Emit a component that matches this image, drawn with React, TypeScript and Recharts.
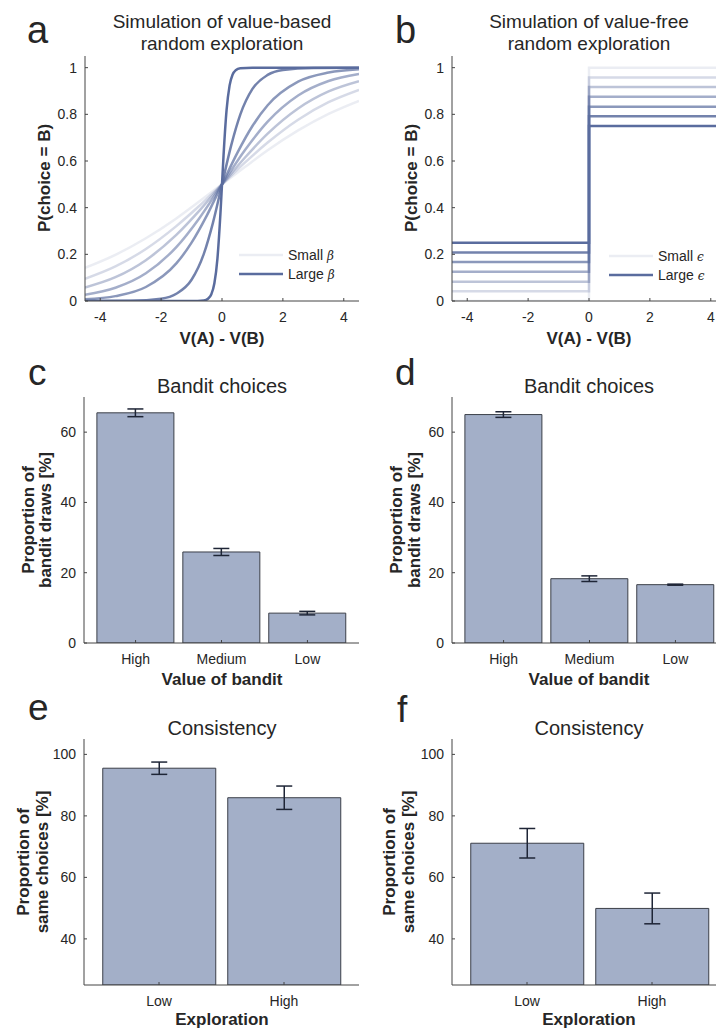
import React from 'react';
import { LineChart, Line, XAxis, YAxis, BarChart, Bar, ErrorBar } from 'recharts';

const FONT = '"Liberation Sans", Arial, Helvetica, sans-serif';
const LINE_BLUE = '#5a6c9e';
const BAR_FILL = '#a3afc8';
const BAR_EDGE = '#3b3f48';
const INK = '#262626';
const AXIS = '#454545';

// panel a: P(choice = B), shallow -> steep
const shallowX = [-4.5, -3.5, -2.5, -1.5, -0.75, 0, 0.75, 1.5, 2.5, 3.5, 4.5];
const midX = [-4.5, -3.5, -2.5, -1.5, -1, -0.5, 0, 0.5, 1, 1.5, 2.5, 3.5, 4.5];
const sharpX = [-4.5, -3, -2, -1.5, -1, -0.6, -0.3, 0, 0.3, 0.6, 1, 1.5, 2, 3, 4.5];
const steepX = [-4.5, -1, -0.6, -0.45, -0.35, -0.25, -0.15, -0.05, 0, 0.05, 0.15, 0.25, 0.35, 0.45, 0.6, 1, 4.5];

const pCurve1 = [0.142, 0.198, 0.269, 0.354, 0.426, 0.5, 0.574, 0.646, 0.731, 0.802, 0.858];
const pCurve2 = [0.095, 0.148, 0.223, 0.321, 0.407, 0.5, 0.593, 0.679, 0.777, 0.852, 0.905];
const pCurve3 = [0.058, 0.102, 0.175, 0.283, 0.386, 0.5, 0.614, 0.717, 0.825, 0.898, 0.942];
const pCurve4 = [0.027, 0.057, 0.119, 0.231, 0.354, 0.5, 0.646, 0.769, 0.881, 0.943, 0.973];
const pCurve5 = [0.007, 0.021, 0.06, 0.161, 0.25, 0.366, 0.5, 0.634, 0.75, 0.839, 0.94, 0.979, 0.993];
const pCurve6 = [0, 0.001, 0.01, 0.031, 0.091, 0.201, 0.334, 0.5, 0.666, 0.799, 0.909, 0.969, 0.99, 0.999, 1];
const pCurve7 = [0, 0, 0.0025, 0.011, 0.029, 0.076, 0.182, 0.378, 0.5, 0.622, 0.818, 0.924, 0.971, 0.989, 0.9975, 1, 1];

// panel b: epsilon-greedy step levels
const stepX = [-4.5, 0, 0, 4.5];
const epsLow = [0, 0.042, 0.083, 0.125, 0.167, 0.208, 0.25];
const epsHigh = [1, 0.958, 0.917, 0.875, 0.833, 0.792, 0.75];

const curveOpacity = [0.12, 0.25, 0.4, 0.55, 0.7, 0.85, 1];
const probTicks = [0, 0.2, 0.4, 0.6, 0.8, 1];
const diffTicks = [-4, -2, 0, 2, 4];

// panels c-f
const banditCats = ['High', 'Medium', 'Low'];
const banditValueBased = [65.5, 25.9, 8.5];
const banditValueBasedErr = [1.1, 1.0, 0.5];
const banditValueFree = [65.0, 18.3, 16.6];
const banditValueFreeErr = [0.8, 0.8, 0.15];
const banditTicks = [0, 20, 40, 60];

const consCats = ['Low', 'High'];
const consValueBased = [95.5, 85.9];
const consValueBasedErr = [2.0, 3.8];
const consValueFree = [71.1, 49.9];
const consValueFreeErr = [4.8, 5.0];
const consTicks = [40, 60, 80, 100];

const toRows = (xs: number[], ps: number[]) => xs.map((x, i) => ({ x, p: ps[i] }));

const betaCurves = [
  toRows(shallowX, pCurve1),
  toRows(shallowX, pCurve2),
  toRows(shallowX, pCurve3),
  toRows(shallowX, pCurve4),
  toRows(midX, pCurve5),
  toRows(sharpX, pCurve6),
  toRows(steepX, pCurve7),
];

const epsCurves = epsLow.map((lo, k) => stepX.map((x, i) => ({ x, p: i < 2 ? lo : epsHigh[k] })));

const barRows = (cats: string[], vals: number[], errs: number[]) =>
  cats.map((name, i) => ({ name, v: vals[i], err: errs[i] }));

const tickStyle = { fill: INK, fontSize: 14, fontFamily: FONT };
const axisLine = { stroke: AXIS, strokeWidth: 1 };

type Box = { left: number; top: number; w: number; h: number };

function frame(b: Box) {
  return {
    style: { position: 'absolute' as const, left: b.left - 50, top: b.top - 10 },
    width: b.w + 60,
    height: b.h + 50,
    margin: { top: 10, right: 10, left: 10, bottom: 10 },
  };
}

function CurvePanel({ box, curves, step }: { box: Box; curves: { x: number; p: number }[][]; step?: boolean }) {
  const f = frame(box);
  return (
    <div style={f.style}>
      <LineChart width={f.width} height={f.height} margin={f.margin}>
        <XAxis
          type="number"
          dataKey="x"
          domain={[-4.5, 4.5]}
          ticks={diffTicks}
          allowDataOverflow
          height={30}
          axisLine={axisLine}
          tickLine={{ stroke: AXIS }}
          tickSize={-3}
          tickMargin={14}
          tick={tickStyle}
        />
        <YAxis
          type="number"
          domain={[0, 1.05]}
          ticks={probTicks}
          allowDataOverflow
          width={40}
          axisLine={axisLine}
          tickLine={{ stroke: AXIS }}
          tickSize={-3}
          tickMargin={11}
          tick={tickStyle}
        />
        {curves.map((rows, k) => (
          <Line
            key={k}
            data={rows}
            dataKey="p"
            type={step ? 'linear' : 'monotone'}
            stroke={LINE_BLUE}
            strokeOpacity={curveOpacity[k]}
            strokeWidth={2.5}
            dot={false}
            activeDot={false}
            isAnimationActive={false}
          />
        ))}
      </LineChart>
    </div>
  );
}

function BarPanel({
  box, rows, domain, ticks, pad,
}: { box: Box; rows: { name: string; v: number; err: number }[]; domain: [number, number]; ticks: number[]; pad: number }) {
  const f = frame(box);
  return (
    <div style={f.style}>
      <BarChart width={f.width} height={f.height} margin={f.margin} data={rows} barCategoryGap="5%">
        <XAxis
          dataKey="name"
          padding={{ left: pad, right: pad }}
          height={30}
          axisLine={axisLine}
          tickLine={{ stroke: AXIS }}
          tickSize={-3}
          tickMargin={14}
          tick={tickStyle}
        />
        <YAxis
          type="number"
          domain={domain}
          ticks={ticks}
          allowDataOverflow
          width={40}
          axisLine={axisLine}
          tickLine={{ stroke: AXIS }}
          tickSize={-3}
          tickMargin={11}
          tick={tickStyle}
        />
        <Bar dataKey="v" fill={BAR_FILL} stroke={BAR_EDGE} strokeWidth={1} isAnimationActive={false}>
          <ErrorBar dataKey="err" width={8} stroke="#1e2536" strokeWidth={1.5} />
        </Bar>
      </BarChart>
    </div>
  );
}

const boxA = { left: 85, top: 56, w: 274, h: 245 };
const boxB = { left: 452, top: 56, w: 274, h: 245 };
const boxC = { left: 84, top: 397, w: 275, h: 246 };
const boxD = { left: 452, top: 397, w: 275, h: 246 };
const boxE = { left: 84, top: 739, w: 275, h: 246 };
const boxF = { left: 452, top: 739, w: 275, h: 246 };

function T({ x, y, size, bold, anchor, children, rotate }: any) {
  return (
    <text
      x={x}
      y={y}
      fontSize={size}
      fontWeight={bold ? 700 : 400}
      textAnchor={anchor || 'middle'}
      fill={INK}
      fontFamily={FONT}
      dominantBaseline={rotate ? 'central' : undefined}
      transform={rotate ? `rotate(-90, ${x}, ${y})` : undefined}
    >
      {children}
    </text>
  );
}

function LegendKey({ x, y, sym }: { x: number; y: number; sym: string }) {
  return (
    <g>
      <line x1={x} x2={x + 44} y1={y} y2={y} stroke={LINE_BLUE} strokeOpacity={curveOpacity[0]} strokeWidth={2.5} />
      <line x1={x} x2={x + 44} y1={y + 19} y2={y + 19} stroke={LINE_BLUE} strokeWidth={2.5} />
      <text x={x + 49} y={y + 5} fontSize={14} fill={INK} fontFamily={FONT}>
        Small <tspan fontStyle="italic" fontFamily='"DejaVu Serif", serif' fontSize={12}>{sym}</tspan>
      </text>
      <text x={x + 49} y={y + 24} fontSize={14} fill={INK} fontFamily={FONT}>
        Large <tspan fontStyle="italic" fontFamily='"DejaVu Serif", serif' fontSize={12}>{sym}</tspan>
      </text>
    </g>
  );
}

export default function App() {
  return (
    <div style={{ position: 'absolute', left: 0, top: 0, width: 716, height: 1030, overflow: 'hidden', background: '#fff' }}>
      <CurvePanel box={boxA} curves={betaCurves} />
      <CurvePanel box={boxB} curves={epsCurves} step />
      <BarPanel box={boxC} rows={barRows(banditCats, banditValueBased, banditValueBasedErr)} domain={[0, 70]} ticks={banditTicks} pad={8.6} />
      <BarPanel box={boxD} rows={barRows(banditCats, banditValueFree, banditValueFreeErr)} domain={[0, 70]} ticks={banditTicks} pad={8.6} />
      <BarPanel box={boxE} rows={barRows(consCats, consValueBased, consValueBasedErr)} domain={[25, 105]} ticks={consTicks} pad={12.5} />
      <BarPanel box={boxF} rows={barRows(consCats, consValueFree, consValueFreeErr)} domain={[25, 105]} ticks={consTicks} pad={12.5} />

      <svg width={716} height={1030} style={{ position: 'absolute', left: 0, top: 0, pointerEvents: 'none' }}>
        <T x={27} y={43} size={38} anchor="start">a</T>
        <T x={395} y={43} size={38} anchor="start">b</T>
        <T x={28} y={385} size={37} anchor="start">c</T>
        <T x={395} y={385} size={37} anchor="start">d</T>
        <T x={28} y={720} size={37} anchor="start">e</T>
        <T x={397} y={722} size={37} anchor="start">f</T>

        <T x={222} y={28} size={19}>Simulation of value-based</T>
        <T x={222} y={50} size={19}>random exploration</T>
        <T x={589} y={28} size={19}>Simulation of value-free</T>
        <T x={589} y={50} size={19}>random exploration</T>
        <T x={222} y={393} size={20}>Bandit choices</T>
        <T x={589} y={393} size={20}>Bandit choices</T>
        <T x={222} y={735} size={20}>Consistency</T>
        <T x={589} y={735} size={20}>Consistency</T>

        <T x={44} y={178} size={17} bold rotate>P(choice = B)</T>
        <T x={411} y={178} size={17} bold rotate>P(choice = B)</T>
        <T x={222} y={344} size={17} bold>V(A) - V(B)</T>
        <T x={589} y={344} size={17} bold>V(A) - V(B)</T>

        <T x={28} y={520} size={17} bold rotate>Proportion of</T>
        <T x={45} y={520} size={17} bold rotate>bandit draws [%]</T>
        <T x={396} y={520} size={17} bold rotate>Proportion of</T>
        <T x={414} y={520} size={17} bold rotate>bandit draws [%]</T>
        <T x={222} y={685} size={17} bold>Value of bandit</T>
        <T x={589} y={685} size={17} bold>Value of bandit</T>

        <T x={23} y={862} size={17} bold rotate>Proportion of</T>
        <T x={42} y={862} size={17} bold rotate>same choices [%]</T>
        <T x={389} y={862} size={17} bold rotate>Proportion of</T>
        <T x={408} y={862} size={17} bold rotate>same choices [%]</T>
        <T x={222} y={1025} size={17} bold>Exploration</T>
        <T x={589} y={1025} size={17} bold>Exploration</T>

        <LegendKey x={239} y={255} sym="β" />
        <LegendKey x={609} y={256} sym="ϵ" />
      </svg>
    </div>
  );
}
